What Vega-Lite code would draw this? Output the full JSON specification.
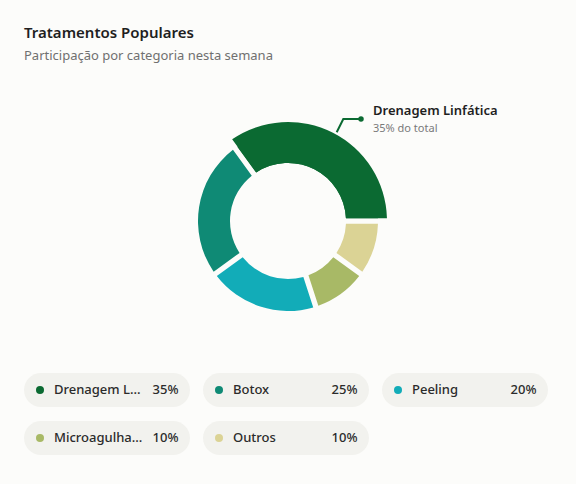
{
  "$schema": "https://vega.github.io/schema/vega-lite/v6.json",
  "description": "Tratamentos populares - participação por categoria (rosca + legenda em pílulas)",
  "background": "#fcfcfa",
  "padding": {"left": 24, "top": 26, "right": 24, "bottom": 30},
  "config": {
    "font": "Noto Sans",
    "view": {"stroke": null},
    "concat": {"spacing": 12}
  },
  "title": {
    "text": "Tratamentos Populares",
    "subtitle": "Participação por categoria nesta semana",
    "anchor": "start",
    "frame": "group",
    "fontSize": 15,
    "fontWeight": 600,
    "color": "#1f1f1f",
    "subtitleFontSize": 13,
    "subtitleColor": "#707070",
    "subtitlePadding": 9,
    "offset": 18
  },
  "datasets": {
    "fatias": [
      {"categoria": "Drenagem Linfática", "pct": 35},
      {"categoria": "Botox", "pct": 25},
      {"categoria": "Peeling", "pct": 20},
      {"categoria": "Microagulhamento", "pct": 10},
      {"categoria": "Outros", "pct": 10}
    ],
    "chamada": [
      {"x": 48.7, "y": 88.7},
      {"x": 55.3, "y": 102},
      {"x": 73, "y": 102}
    ]
  },
  "vconcat": [
    {
      "width": 528,
      "height": 280,
      "layer": [
        {
          "data": {"name": "fatias"},
          "transform": [
            {"stack": "pct", "groupby": [], "sort": [{"field": "pct", "order": "descending"}, {"field": "categoria", "order": "ascending"}], "as": ["t0", "t1"]}
          ],
          "mark": {"type": "arc", "innerRadius": 58, "outerRadius": 90, "padAngle": 0.05},
          "encoding": {
            "theta": {"field": "t0", "type": "quantitative", "scale": {"domain": [0, 100], "range": [1.5708, -4.7124]}},
            "theta2": {"field": "t1"},
            "color": {
              "field": "categoria", "type": "nominal", "legend": null,
              "scale": {"domain": ["Drenagem Linfática", "Botox", "Peeling", "Microagulhamento", "Outros"], "range": ["#0b6a32", "#0f8a75", "#12acb8", "#a8b966", "#dbd395"]}
            }
          }
        },
        {
          "data": {"name": "fatias"},
          "transform": [
            {"stack": "pct", "groupby": [], "sort": [{"field": "pct", "order": "descending"}, {"field": "categoria", "order": "ascending"}], "as": ["t0", "t1"]},
            {"filter": "datum.categoria === 'Drenagem Linfática'"}
          ],
          "mark": {"type": "arc", "innerRadius": 58, "outerRadius": 99, "padAngle": 0.05},
          "encoding": {
            "theta": {"field": "t0", "type": "quantitative", "scale": {"domain": [0, 100], "range": [1.5708, -4.7124]}},
            "theta2": {"field": "t1"},
            "color": {"field": "categoria", "type": "nominal", "legend": null}
          }
        },
        {
          "data": {"name": "chamada"},
          "mark": {"type": "line", "color": "#0b6a32", "strokeWidth": 2},
          "encoding": {
            "x": {"field": "x", "type": "quantitative", "scale": {"domain": [-264, 264], "nice": false, "zero": false}, "axis": null},
            "y": {"field": "y", "type": "quantitative", "scale": {"domain": [-140, 140], "nice": false, "zero": false}, "axis": null}
          }
        },
        {
          "data": {"name": "chamada"},
          "transform": [{"filter": "datum.x > 70"}],
          "mark": {"type": "point", "filled": true, "size": 30, "opacity": 1, "color": "#0b6a32"},
          "encoding": {
            "x": {"field": "x", "type": "quantitative"},
            "y": {"field": "y", "type": "quantitative"}
          }
        },
        {
          "data": {"name": "fatias"},
          "transform": [{"filter": "datum.categoria === 'Drenagem Linfática'"}],
          "mark": {"type": "text", "align": "left", "baseline": "middle", "dx": 12, "dy": -8, "fontSize": 13, "fontWeight": 600, "color": "#1f1f1f"},
          "encoding": {
            "x": {"datum": 73, "type": "quantitative"},
            "y": {"datum": 102, "type": "quantitative"},
            "text": {"field": "categoria"}
          }
        },
        {
          "data": {"name": "fatias"},
          "transform": [
            {"filter": "datum.categoria === 'Drenagem Linfática'"},
            {"calculate": "datum.pct + '% do total'", "as": "rotulo"}
          ],
          "mark": {"type": "text", "align": "left", "baseline": "middle", "dx": 12, "dy": 10, "fontSize": 11, "color": "#7a7a7a"},
          "encoding": {
            "x": {"datum": 73, "type": "quantitative"},
            "y": {"datum": 102, "type": "quantitative"},
            "text": {"field": "rotulo"}
          }
        }
      ]
    },
    {
      "width": 524,
      "height": 82,
      "data": {"name": "fatias"},
      "transform": [
        {"window": [{"op": "row_number", "as": "n"}]},
        {"calculate": "(datum.n - 1) % 3", "as": "coluna"},
        {"calculate": "floor((datum.n - 1) / 3)", "as": "linha"},
        {"calculate": "datum.pct + '%'", "as": "rotulo"}
      ],
      "encoding": {
        "y": {"field": "linha", "type": "ordinal", "scale": {"paddingInner": 0.2917, "paddingOuter": 0}, "axis": null}
      },
      "layer": [
        {
          "mark": {"type": "rect", "color": "#f2f2ee", "cornerRadius": 17},
          "encoding": {
            "x": {"field": "coluna", "type": "ordinal", "scale": {"paddingInner": 0.0726, "paddingOuter": 0}, "axis": null}
          }
        },
        {
          "mark": {"type": "point", "filled": true, "size": 64, "opacity": 1},
          "encoding": {
            "x": {"field": "coluna", "type": "ordinal", "bandPosition": 0.0964},
            "color": {"field": "categoria", "type": "nominal", "legend": null}
          }
        },
        {
          "mark": {"type": "text", "align": "left", "baseline": "middle", "fontSize": 13, "fontWeight": 500, "color": "#2b2b2b", "limit": 89, "ellipsis": "..."},
          "encoding": {
            "x": {"field": "coluna", "type": "ordinal", "bandPosition": 0.1807},
            "text": {"field": "categoria"}
          }
        },
        {
          "mark": {"type": "text", "align": "right", "baseline": "middle", "fontSize": 13, "fontWeight": 500, "color": "#2b2b2b"},
          "encoding": {
            "x": {"field": "coluna", "type": "ordinal", "bandPosition": 0.9307},
            "text": {"field": "rotulo"}
          }
        }
      ]
    }
  ]
}
